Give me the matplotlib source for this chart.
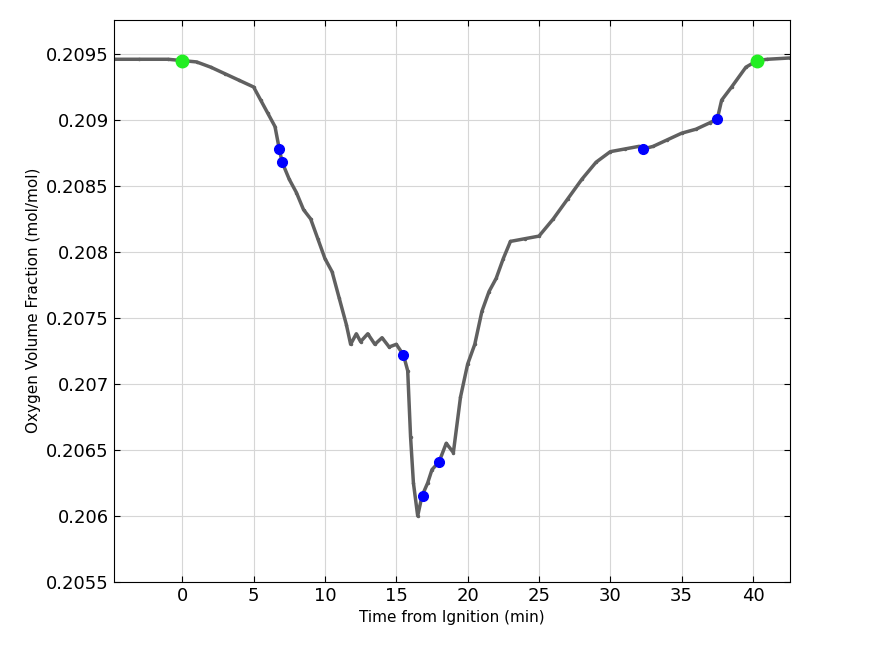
import matplotlib
matplotlib.use("Agg")
import matplotlib.pyplot as plt

t = [-4.8,-3,-1,0,1,2,3,4,5,5.5,6,6.5,6.8,7.0,7.5,8,8.5,9,9.5,10,10.5,11,11.5,11.8,12.2,12.5,13,13.5,14,14.5,15,15.5,15.8,16,16.2,16.5,16.8,17.2,17.5,18,18.5,19,19.5,20,20.5,21,21.5,22,22.5,23,24,25,26,27,28,29,30,31,32,32.3,33,34,35,36,37,37.5,37.8,38.5,39.5,40.3,41,42.6]
o2 = [.20946,.20946,.20946,.20945,.20944,.20940,.20935,.20930,.20925,.20915,.20905,.20895,.20878,.20868,.20855,.20845,.20832,.20825,.20810,.20795,.20785,.20765,.20745,.20730,.20738,.20732,.20738,.20730,.20735,.20728,.20730,.20722,.20710,.20660,.20625,.20600,.20615,.20625,.20635,.20641,.20655,.20648,.20690,.20715,.20730,.20755,.20770,.20780,.20795,.20808,.20810,.20812,.20825,.20840,.20855,.20868,.20876,.20878,.20880,.20878,.20880,.20885,.20890,.20893,.20898,.20901,.20915,.20925,.20940,.20945,.20946,.20947]
blue_t = [6.8,7.0,15.5,16.9,18.0,32.3,37.5]
blue_y = [.20878,.20868,.20722,.20615,.20641,.20878,.20901]
green_t = [0,40.3]
green_y = [.20945,.20945]
yticks = [0.2055,0.206,0.2065,0.207,0.2075,0.208,0.2085,0.209,0.2095]
ylabels = ['0.2055','0.206','0.2065','0.207','0.2075','0.208','0.2085','0.209','0.2095']

fig = plt.figure(figsize=(8.75,6.56), dpi=100)
ax = fig.add_axes([0.130,0.113,0.773,0.857])
ax.plot(t, o2, color='#606060', lw=2.5, marker='.', ms=3)
ax.plot(blue_t, blue_y, 'o', color='blue', ms=7)
ax.plot(green_t, green_y, 'o', color='#22ee22', ms=9)
ax.set_xlim(-4.8,42.6)
ax.set_ylim(0.2055,0.20976)
ax.set_xticks([0,5,10,15,20,25,30,35,40])
ax.set_yticks(yticks)
ax.set_yticklabels(ylabels)
ax.tick_params(labelsize=13, direction='in', top=True, right=True, length=4)
ax.grid(True, color='#d6d6d6', lw=0.8)
ax.set_xlabel('Time from Ignition (min)', fontsize=11)
ax.set_ylabel('Oxygen Volume Fraction (mol/mol)', fontsize=11)
fig.savefig('out.png')
